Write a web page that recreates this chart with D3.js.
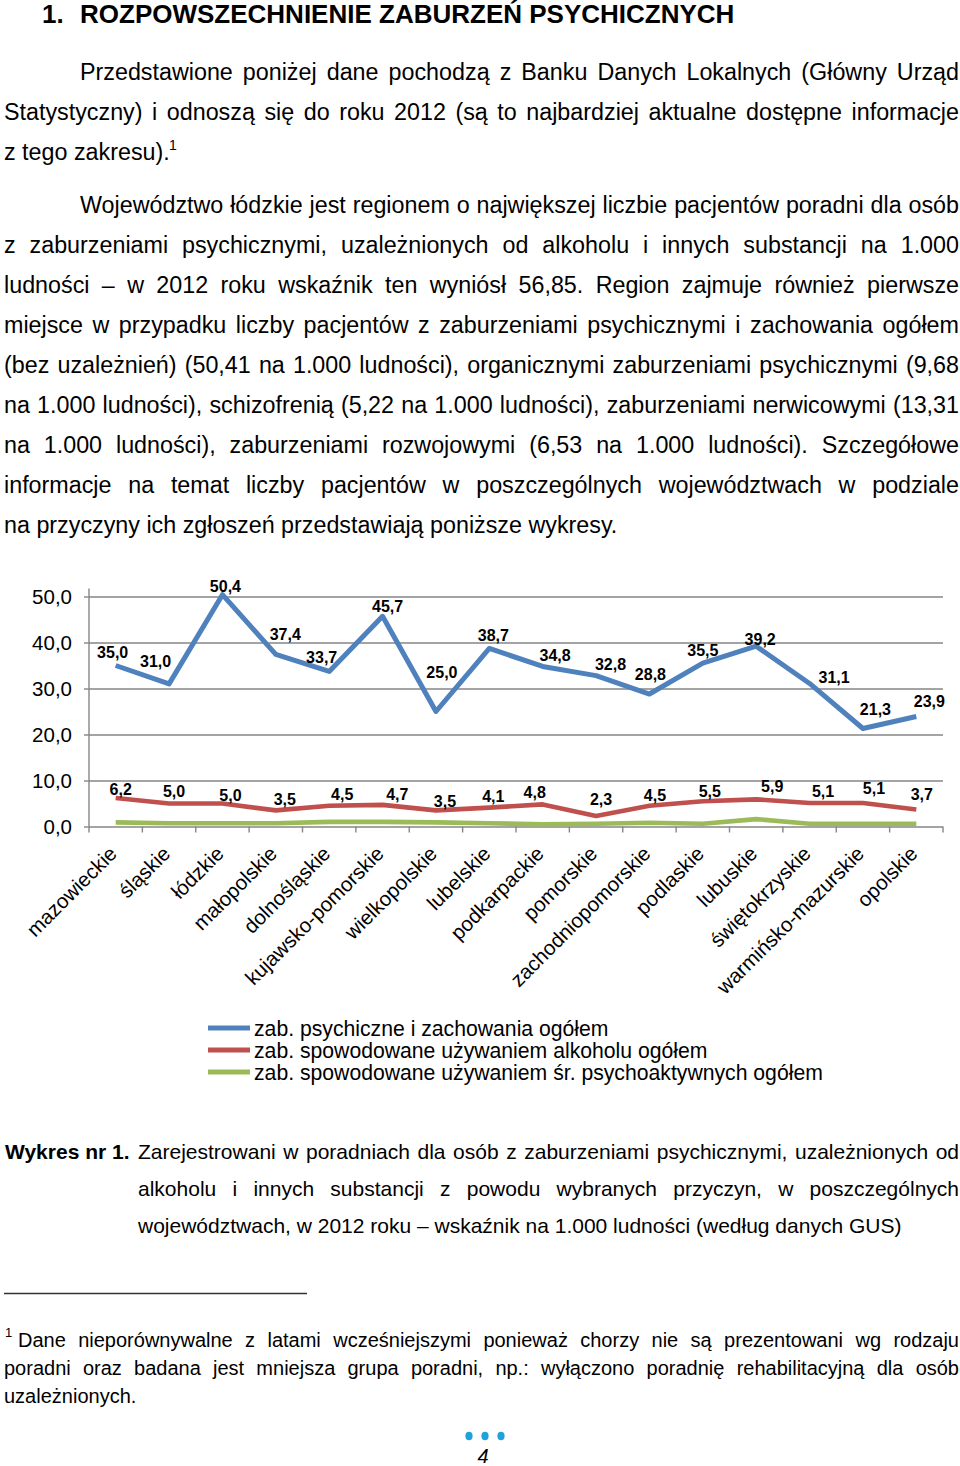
<!DOCTYPE html>
<html>
<head>
<meta charset="utf-8">
<script src="https://cdn.jsdelivr.net/npm/d3@7"></script>
<style>
html, body { margin: 0; padding: 0; background: #fff; }
svg { display: block; font-family: Arial, "Liberation Sans", sans-serif; }
</style>
</head>
<body>
<svg id="page" width="960" height="1466"></svg>
<script>
"use strict";

// voivodeships in chart order
var regions = ["mazowieckie", "śląskie", "łódzkie", "małopolskie", "dolnośląskie",
    "kujawsko-pomorskie", "wielkopolskie", "lubelskie", "podkarpackie", "pomorskie",
    "zachodniopomorskie", "podlaskie", "lubuskie", "świętokrzyskie",
    "warmińsko-mazurskie", "opolskie"];

var psychiczne = [35.0, 31.0, 50.4, 37.4, 33.7, 45.7, 25.0, 38.7, 34.8, 32.8, 28.8, 35.5, 39.2, 31.1, 21.3, 23.9];
var alkohol = [6.2, 5.0, 5.0, 3.5, 4.5, 4.7, 3.5, 4.1, 4.8, 2.3, 4.5, 5.5, 5.9, 5.1, 5.1, 3.7];
// no labels in the picture for this one
var psychoaktywne = [0.9, 0.7, 0.7, 0.7, 1.0, 1.0, 0.9, 0.7, 0.5, 0.6, 0.8, 0.6, 1.6, 0.6, 0.6, 0.6];

var yTicks = [0, 10, 20, 30, 40, 50];
var seriesNames = [
    "zab. psychiczne i zachowania ogółem",
    "zab. spowodowane używaniem alkoholu ogółem",
    "zab. spowodowane używaniem śr. psychoaktywnych ogółem"
];
var seriesColors = ["#4f81bd", "#c0504d", "#9bbb59"];

// hand placed data labels (dx, dy from the point)
var blueLabelShift = [[-3,-7.5],[-13.5,-17],[3,-3],[9.4,-14.5],[-7.5,-8],[5,-4],[6,-33.5],[4,-7.5],
    [12.4,-5],[14.4,-6],[1,-14],[0,-7],[4,-1],[24.5,-0.7],[12.5,-13.5],[13,-10]];
var redLabelShift = [[5,-3],[5,-6.5],[8,-3],[9,-5],[13,-6],[14.7,-5],[9,-3],[4,-6],
    [-8,-6],[5,-11],[5.5,-5],[7,-4],[16,-7],[13.5,-6],[11,-9],[5.5,-9.5]];

var svg = d3.select("#page");
svg.append("rect").attr("width", 960).attr("height", 1466).attr("fill", "#fff");

/* one line of text spread between x0 and x1, word by word */
function justifyLine(g, str, x0, x1, y, last){
    var t = g.append("text").attr("y", y);
    if ( last ){
        t.attr("x", x0).text(str);
        return t;
    }
    var words = str.split(" ");
    var spans = words.map(function(w){ return t.append("tspan").text(w); });
    var widths = spans.map(function(s){ return s.node().getComputedTextLength(); });
    var gap = (x1 - x0 - d3.sum(widths)) / (words.length - 1);
    var x = x0;
    spans.forEach(function(s, i){
        s.attr("x", x);
        x += widths[i] + gap;
    });
    return t;
}

function paragraph(g, lines, firstX, x0, x1, y0, step){
    lines.forEach(function(l, i){
        justifyLine(g, l, i == 0 ? firstX : x0, x1, y0 + i * step, i == lines.length - 1);
    });
}

// ---- heading and body text
var head = svg.append("g").attr("font-weight", "bold").attr("font-size", 26);
head.append("text").attr("x", 42).attr("y", 23).text("1.");
head.append("text").attr("x", 80).attr("y", 23).text("ROZPOWSZECHNIENIE ZABURZEŃ PSYCHICZNYCH");

var body = svg.append("g").attr("font-size", 23.3).attr("fill", "#000");
paragraph(body, [
    "Przedstawione poniżej dane pochodzą z Banku Danych Lokalnych (Główny Urząd",
    "Statystyczny) i odnoszą się do roku 2012 (są to najbardziej aktualne dostępne informacje",
    "z tego zakresu)."
], 80, 4, 959, 80, 40);
body.append("text").attr("x", 169).attr("y", 150).attr("font-size", 14).text("1");

paragraph(body, [
    "Województwo łódzkie jest regionem o największej liczbie pacjentów poradni dla osób",
    "z zaburzeniami psychicznymi, uzależnionych od alkoholu i innych substancji na 1.000",
    "ludności – w 2012 roku wskaźnik ten wyniósł 56,85. Region zajmuje również pierwsze",
    "miejsce w przypadku liczby pacjentów z zaburzeniami psychicznymi i zachowania ogółem",
    "(bez uzależnień) (50,41 na 1.000 ludności), organicznymi zaburzeniami psychicznymi (9,68",
    "na 1.000 ludności), schizofrenią (5,22 na 1.000 ludności), zaburzeniami nerwicowymi (13,31",
    "na 1.000 ludności), zaburzeniami rozwojowymi (6,53 na 1.000 ludności). Szczegółowe",
    "informacje na temat liczby pacjentów w poszczególnych województwach w podziale",
    "na przyczyny ich zgłoszeń przedstawiają poniższe wykresy."
], 80, 4, 959, 213, 40);

// ---- chart
var x = d3.scaleBand().domain(regions).range([89, 943]);
var y = d3.scaleLinear().domain([0, 50]).range([826.5, 596.5]);
var xc = function(i){ return x(regions[i]) + x.bandwidth() / 2; };
var axisColor = "#868686";
var comma = function(d){ return d3.format(".1f")(d).replace(".", ","); };

var chart = svg.append("g");

// gridlines
chart.append("g")
    .call(d3.axisLeft(y).tickValues(yTicks).tickSize(-(943 - 89)).tickFormat(""))
    .attr("transform", "translate(89,0)")
    .call(function(g){
        g.select(".domain").remove();
        g.selectAll("line").attr("stroke", axisColor).attr("stroke-width", 1.4);
    });

// y axis
chart.append("g")
    .attr("transform", "translate(89,0)")
    .call(d3.axisLeft(y).tickValues(yTicks).tickSize(5).tickSizeOuter(0).tickPadding(12).tickFormat(comma))
    .call(function(g){
        g.select(".domain").remove();
        g.selectAll("line").attr("stroke", axisColor).attr("stroke-width", 1.4);
        g.selectAll("text").attr("font-size", 20.5).attr("font-family", null).attr("fill", "#000");
    });
chart.append("line")
    .attr("x1", 89).attr("x2", 89)
    .attr("y1", y(0)).attr("y2", y(50) - 8)
    .attr("stroke", axisColor).attr("stroke-width", 1.4);

// x axis, ticks between the categories
chart.append("g")
    .attr("transform", "translate(0," + y(0) + ")")
    .call(d3.axisBottom(x).tickSize(0).tickPadding(0))
    .call(function(g){
        g.select(".domain").remove();
        g.selectAll("text")
            .attr("font-size", 20.5).attr("font-family", null).attr("fill", "#000")
            .attr("text-anchor", "end")
            .attr("x", 0).attr("y", 0).attr("dy", null)
            .attr("transform", "translate(2.5,28.5) rotate(-45)");
    });
var edges = regions.map(function(r){ return x(r); }).concat([x.range()[1]]);
chart.selectAll(".xtick").data(edges).enter().append("line")
    .attr("class", "xtick")
    .attr("x1", function(d){ return d; }).attr("x2", function(d){ return d; })
    .attr("y1", y(0)).attr("y2", y(0) + 6)
    .attr("stroke", axisColor).attr("stroke-width", 1.4);

// series
var line = d3.line()
    .x(function(d, i){ return xc(i); })
    .y(function(d){ return y(d); });

[psychoaktywne, alkohol, psychiczne].forEach(function(s, k){
    chart.append("path")
        .datum(s)
        .attr("d", line)
        .attr("fill", "none")
        .attr("stroke", seriesColors[2 - k])
        .attr("stroke-width", k == 2 ? 5 : 4.6)
        .attr("stroke-linejoin", "round");
});

function dataLabels(values, shifts){
    chart.append("g")
        .attr("font-size", 16).attr("font-weight", "bold").attr("text-anchor", "middle")
        .selectAll("text").data(values).enter().append("text")
        .attr("x", function(d, i){ return xc(i) + shifts[i][0]; })
        .attr("y", function(d, i){ return y(d) + shifts[i][1]; })
        .text(comma);
}
dataLabels(psychiczne, blueLabelShift);
dataLabels(alkohol, redLabelShift);

// legend
var legend = chart.append("g").selectAll("g").data(seriesNames).enter().append("g")
    .attr("transform", function(d, i){ return "translate(208," + (1028 + i * 22) + ")"; });
legend.append("line")
    .attr("x1", 0).attr("x2", 42)
    .attr("stroke", function(d, i){ return seriesColors[i]; })
    .attr("stroke-width", 5);
legend.append("text")
    .attr("x", 46).attr("y", 7.5)
    .attr("font-size", 21.2)
    .text(function(d){ return d; });

// ---- caption
var cap = svg.append("g").attr("font-size", 21);
cap.append("text").attr("x", 5).attr("y", 1159).attr("font-weight", "bold").text("Wykres nr 1.");
paragraph(cap, [
    "Zarejestrowani w poradniach dla osób z zaburzeniami psychicznymi, uzależnionych od",
    "alkoholu i innych substancji z powodu wybranych przyczyn, w poszczególnych",
    "województwach, w 2012 roku – wskaźnik na 1.000 ludności (według danych GUS)"
], 138, 138, 959, 1159, 37);

// ---- footnote
svg.append("line")
    .attr("x1", 4).attr("x2", 307).attr("y1", 1293.5).attr("y2", 1293.5)
    .attr("stroke", "#333").attr("stroke-width", 1.3);
var foot = svg.append("g").attr("font-size", 20);
foot.append("text").attr("x", 5).attr("y", 1337).attr("font-size", 13).text("1");
paragraph(foot, [
    "Dane nieporównywalne z latami wcześniejszymi ponieważ chorzy nie są prezentowani wg rodzaju",
    "poradni oraz badana jest mniejsza grupa poradni, np.: wyłączono poradnię rehabilitacyjną dla osób",
    "uzależnionych."
], 18, 4, 959, 1347, 28);

// ---- page number
svg.append("g").selectAll("ellipse").data([469, 485, 501]).enter().append("ellipse")
    .attr("cx", function(d){ return d; }).attr("cy", 1436)
    .attr("rx", 3.6).attr("ry", 4.2)
    .attr("fill", "#1fa3dc");
svg.append("text")
    .attr("x", 483).attr("y", 1463)
    .attr("text-anchor", "middle")
    .attr("font-size", 20).attr("font-style", "italic")
    .attr("font-family", "'Liberation Sans Narrow', Arial, sans-serif")
    .text("4");
</script>
</body>
</html>
